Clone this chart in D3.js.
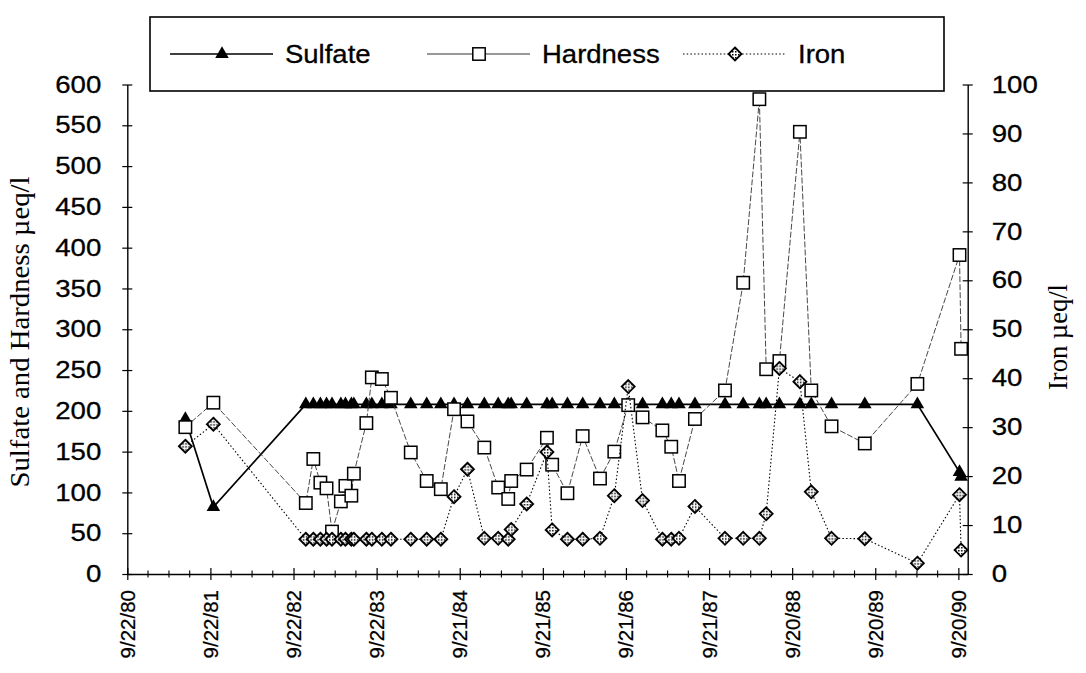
<!DOCTYPE html>
<html>
<head>
<meta charset="utf-8">
<script src="https://cdn.jsdelivr.net/npm/d3@7"></script>
<style>
  body { margin: 0; background: #fff; }
</style>
</head>
<body>
<div id="chart"></div>
<script>
// Sample dates (shared by the three series)
var sampleDates = ["1981-06-04", "1981-10-05", "1982-11-15", "1982-12-18", "1983-01-18", "1983-02-14",
  "1983-03-10", "1983-04-18", "1983-05-08", "1983-06-03", "1983-06-14", "1983-08-08", "1983-09-01",
  "1983-10-15", "1983-11-24", "1984-02-19", "1984-04-29", "1984-06-30", "1984-08-27", "1984-10-25",
  "1985-01-07", "1985-03-09", "1985-04-22", "1985-05-05", "1985-07-12", "1985-10-09", "1985-11-01",
  "1986-01-07", "1986-03-15", "1986-05-30", "1986-08-01", "1986-10-01", "1986-12-03", "1987-02-28",
  "1987-04-08", "1987-05-12", "1987-07-21", "1987-11-30", "1988-02-18", "1988-04-29", "1988-05-29",
  "1988-07-26", "1988-10-24", "1988-12-13", "1989-03-12", "1989-08-05", "1990-03-24", "1990-09-25",
  "1990-10-02"];

// µeq/l, left axis
var sulfate = [190, 82, 208, 208, 208, 208, 208, 208, 208, 208, 208, 208, 208, 208, 208, 208, 208,
  208, 208, 208, 208, 208, 208, 208, 208, 208, 208, 208, 208, 208, 208, 208, 208, 208, 208, 208, 208,
  208, 208, 208, 208, 208, 208, 208, 208, 208, 208, 125, 119];

var hardness = [180, 210, 87, 141, 112, 105, 52, 89, 108, 96, 123, 185, 241, 239, 216, 149, 114, 104,
  202, 187, 155, 106, 92, 114, 128, 167, 134, 99, 169, 117, 150, 207, 192, 176, 156, 114, 190, 225,
  357, 582, 251, 261, 542, 225, 181, 160, 233, 391, 276];

// µeq/l, right axis
var iron = [26.1, 30.6, 7.1, 7.1, 7.1, 7.1, 7.1, 7.1, 7.1, 7.1, 7.1, 7.1, 7.1, 7.1, 7.1, 7.1, 7.1,
  7.1, 15.8, 21.4, 7.3, 7.3, 7.1, 9.1, 14.3, 24.9, 9.0, 7.1, 7.1, 7.3, 16.0, 38.3, 15.0, 7.1, 7.1,
  7.3, 13.8, 7.3, 7.3, 7.3, 12.3, 42.0, 39.3, 16.8, 7.3, 7.2, 2.2, 16.2, 4.9];

var seriesNames = ["Sulfate", "Hardness", "Iron"];
var xTickLabels = ["9/22/80", "9/22/81", "9/22/82", "9/22/83", "9/21/84", "9/21/85", "9/21/86",
  "9/21/87", "9/20/88", "9/20/89", "9/20/90"];
var xAxisEnd = "1990-10-31";
var leftTicks = [0, 50, 100, 150, 200, 250, 300, 350, 400, 450, 500, 550, 600];
var rightTicks = [0, 10, 20, 30, 40, 50, 60, 70, 80, 90, 100];

var svgWidth = 1086;
var svgHeight = 673;

var margin = {
  top: 84.5,
  right: 118.3,
  bottom: 99,
  left: 127.3
};

var width = svgWidth - margin.left - margin.right;
var height = svgHeight - margin.top - margin.bottom;

var sansFont = "'Liberation Sans', Arial, Helvetica, sans-serif";
var serifFont = "'Liberation Serif', 'Times New Roman', serif";

var parseDate = d3.timeParse("%Y-%m-%d");
var parseLabel = d3.timeParse("%m/%d/%y");

var dates = sampleDates.map(parseDate);
var tickDates = xTickLabels.map(parseLabel);

var svg = d3.select("#chart")
  .append("svg")
  .attr("width", svgWidth)
  .attr("height", svgHeight)
  .style("background", "#fff");

// speckled fill used inside the iron diamonds
var pattern = svg.append("defs").append("pattern")
  .attr("id", "speckle")
  .attr("patternUnits", "userSpaceOnUse")
  .attr("width", 3)
  .attr("height", 3);
pattern.append("rect").attr("width", 3).attr("height", 3).attr("fill", "#fff");
pattern.append("rect").attr("width", 1.5).attr("height", 1.5).attr("fill", "#000");

var chartGroup = svg.append("g")
  .attr("transform", `translate(${margin.left}, ${margin.top})`);

// Scales
var xTimeScale = d3.scaleTime()
  .domain([tickDates[0], parseDate(xAxisEnd)])
  .range([0, width]);

var yLeftScale = d3.scaleLinear()
  .domain([0, 600])
  .range([height, 0]);

var yRightScale = d3.scaleLinear()
  .domain([0, 100])
  .range([height, 0]);

function styleAxis(g) {
  g.attr("font-family", sansFont).attr("font-size", 24);
  g.select(".domain").attr("stroke-width", 1.4);
  g.selectAll(".tick line").attr("stroke-width", 1.2);
  g.selectAll(".tick text").attr("fill", "#000").attr("stroke", "#000").attr("stroke-width", 0.3);
}

// Left axis
var leftAxis = d3.axisLeft(yLeftScale).tickValues(leftTicks).tickSizeOuter(0);
var gLeft = chartGroup.append("g").call(leftAxis);
styleAxis(gLeft);
gLeft.selectAll(".tick line").attr("x1", -5).attr("x2", 5);
gLeft.selectAll(".tick text").attr("x", -26 / 1.15).attr("transform", "scale(1.15,1)");

// Right axis
var rightAxis = d3.axisRight(yRightScale).tickValues(rightTicks).tickSizeOuter(0);
var gRight = chartGroup.append("g").attr("transform", `translate(${width}, 0)`).call(rightAxis);
styleAxis(gRight);
gRight.selectAll(".tick line").attr("x1", -5).attr("x2", 5);
gRight.selectAll(".tick text").attr("x", 24 / 1.15).attr("transform", "scale(1.15,1)");

// Bottom axis: yearly major ticks, quarterly minor ticks
var bottomAxis = d3.axisBottom(xTimeScale).tickValues(tickDates).tickFormat("").tickSizeOuter(0);
var gX = chartGroup.append("g").attr("transform", `translate(0, ${height})`).call(bottomAxis);
styleAxis(gX);
gX.selectAll(".tick line").attr("y1", -6).attr("y2", 6);

var minorDates = [];
tickDates.slice(0, -1).forEach(function(d) {
  [1, 2, 3].forEach(function(k) {
    minorDates.push(d3.timeDay.offset(d, Math.round(k * 365 / 4)));
  });
});
gX.selectAll(".minor")
  .data(minorDates)
  .enter()
  .append("line")
  .attr("x1", d => xTimeScale(d))
  .attr("x2", d => xTimeScale(d))
  .attr("y1", -3.5)
  .attr("y2", 3.5)
  .attr("stroke", "#000")
  .attr("stroke-width", 1.1);

gX.selectAll(".xlabel")
  .data(tickDates)
  .enter()
  .append("text")
  .attr("transform", d => `translate(${xTimeScale(d) + 7.5}, 16) rotate(-90)`)
  .attr("text-anchor", "end")
  .attr("font-family", sansFont)
  .attr("font-size", 20.5)
  .attr("fill", "#000")
  .attr("stroke", "#000")
  .attr("stroke-width", 0.25)
  .text((d, i) => xTickLabels[i]);

// Axis titles
svg.append("text")
  .attr("transform", "translate(29, 332) rotate(-90)")
  .attr("text-anchor", "middle")
  .attr("font-family", serifFont)
  .attr("font-size", 28)
  .attr("textLength", 311)
  .attr("lengthAdjust", "spacingAndGlyphs")
  .text("Sulfate and Hardness µeq/l");

svg.append("text")
  .attr("transform", "translate(1067, 337) rotate(-90)")
  .attr("text-anchor", "middle")
  .attr("font-family", serifFont)
  .attr("font-size", 28)
  .attr("textLength", 106)
  .attr("lengthAdjust", "spacingAndGlyphs")
  .text("Iron µeq/l");

// Series
var styles = [
  { values: sulfate, scale: yLeftScale, width: 1.7, dash: null, color: "#000", marker: "triangle" },
  { values: hardness, scale: yLeftScale, width: 0.9, dash: "6,2", color: "#333", marker: "square" },
  { values: iron, scale: yRightScale, width: 1.1, dash: "1.5,2.2", color: "#000", marker: "diamond" }
];

function drawMarker(sel, kind) {
  if (kind === "triangle") {
    sel.append("path")
      .attr("d", d3.symbol().type(d3.symbolTriangle).size(80)())
      .attr("fill", "#000");
  } else if (kind === "square") {
    sel.append("rect")
      .attr("x", -6.2).attr("y", -6.2)
      .attr("width", 12.4).attr("height", 12.4)
      .attr("fill", "#fff")
      .attr("stroke", "#000")
      .attr("stroke-width", 1.5);
  } else {
    sel.append("path")
      .attr("d", "M0,-6.5L6.5,0L0,6.5L-6.5,0Z")
      .attr("fill", "url(#speckle)")
      .attr("stroke", "#000")
      .attr("stroke-width", 1.8);
  }
}

styles.forEach(function(s) {
  var points = dates.map((d, i) => ({ date: d, value: s.values[i] }));
  var line = d3.line()
    .x(d => xTimeScale(d.date))
    .y(d => s.scale(d.value));

  chartGroup.append("path")
    .datum(points)
    .attr("d", line)
    .attr("fill", "none")
    .attr("stroke", s.color)
    .attr("stroke-width", s.width)
    .attr("stroke-dasharray", s.dash);

  chartGroup.selectAll(null)
    .data(points)
    .enter()
    .append("g")
    .attr("transform", d => `translate(${xTimeScale(d.date)}, ${s.scale(d.value)})`)
    .each(function() { drawMarker(d3.select(this), s.marker); });
});

// Legend
var legend = svg.append("g");
legend.append("rect")
  .attr("x", 150).attr("y", 17)
  .attr("width", 794).attr("height", 74)
  .attr("fill", "#fff")
  .attr("stroke", "#000")
  .attr("stroke-width", 1.6);

var legendX = [170, 427, 683];
seriesNames.forEach(function(name, i) {
  var s = styles[i];
  var item = legend.append("g").attr("transform", `translate(${legendX[i]}, 54)`);
  item.append("line")
    .attr("x1", 0).attr("x2", 103)
    .attr("stroke", s.color)
    .attr("stroke-width", i === 0 ? 1.7 : 1.1)
    .attr("stroke-dasharray", i === 2 ? "1.5,2.2" : null);
  drawMarker(item.append("g").attr("transform", "translate(52, 0)"), s.marker);
  item.append("text")
    .attr("x", 115 / 1.1)
    .attr("y", 9)
    .attr("transform", "scale(1.1,1)")
    .attr("font-family", sansFont)
    .attr("font-size", 25)
    .attr("fill", "#000")
    .attr("stroke", "#000")
    .attr("stroke-width", 0.3)
    .text(name);
});
</script>
</body>
</html>
